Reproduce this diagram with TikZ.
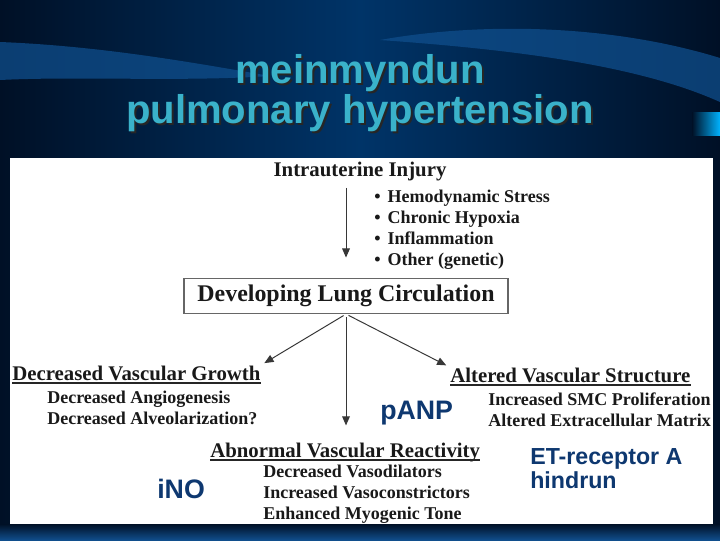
\documentclass[tikz,border=0pt]{standalone}
\usepackage{fontspec}
\setmainfont{Liberation Serif}
\newfontfamily\arialfont{Liberation Sans}
\usetikzlibrary{arrows.meta,calc,positioning}
\definecolor{bgmid}{RGB}{0,52,104}
\definecolor{bgdark}{RGB}{0,16,38}
\definecolor{bgband}{RGB}{16,78,140}
\definecolor{titlecyan}{RGB}{58,178,202}
\definecolor{drugblue}{RGB}{14,56,112}
\definecolor{flowgray}{RGB}{55,55,55}
\tikzset{
  title/.style={font=\fontsize{28.5}{32}\selectfont\arialfont\bfseries, text=titlecyan, inner sep=0pt},
  head/.style={font=\fontsize{14.8}{17}\selectfont\bfseries, text=black!90, inner sep=0pt, anchor=base west},
  item/.style={font=\fontsize{12.8}{15}\selectfont\bfseries, text=black!90, inner sep=0pt, anchor=base west},
  drug/.style={font=\fontsize{19}{22}\selectfont\arialfont\bfseries, text=drugblue, inner sep=0pt, anchor=base west},
  flow/.style={-{Triangle[length=6.5pt,width=5.5pt]}, draw=flowgray, line width=0.7pt},
  ul/.style={draw=black!85, line width=1.2pt},
}
\begin{document}
\begin{tikzpicture}[x=0.025cm, y=-0.025cm]
  % slide background
  \shade[left color=bgdark, right color=bgdark, middle color=bgmid] (0,0) rectangle (720,540);
  \fill[bgband, opacity=.75] (0,42) .. controls (100,46) and (190,62) .. (270,76)
    .. controls (180,82) and (80,76) .. (0,80) -- cycle;
  \fill[bgband, opacity=.75] (380,40) .. controls (480,22) and (610,24) .. (720,58)
    -- (720,102) .. controls (640,66) and (520,50) .. (380,40) -- cycle;
  \shade[left color=bgdark, right color=cyan!70!blue] (692,112) rectangle (720,135);
  \shade[top color=bgdark, bottom color=bgband] (0,524) rectangle (720,540);
  \fill[white] (10,158) rectangle (713,524);

  % title with its shadow
  \node[title, text=black!85] (t1s) at (362,75) {meinmyndun};
  \node[title] (t1) at (360,73) {meinmyndun};
  \node[title, text=black!85] (t2s) at (362,115) {pulmonary hypertension};
  \node[title] (t2) at (360,113) {pulmonary hypertension};

  % cause and lung box
  \node[head, anchor=base] (inj) at (360,176) {Intrauterine Injury};
  \foreach \c [count=\i] in {Hemodynamic Stress, Chronic Hypoxia, Inflammation, Other (genetic)}
    \node[item] (cause\i) at (374,181+21*\i) {\textbullet\hspace{5pt}\c};
  \node[draw=black!60, line width=0.8pt, minimum width=8.1cm, minimum height=0.875cm,
        font=\fontsize{17}{20}\selectfont\bfseries, text=black!90] (dev) at (346,296)
        {Developing Lung Circulation};

  % three outcomes
  \node[head] (gro) at (12,380) {Decreased Vascular Growth};
  \node[item] (gro1) at (47,403) {Decreased Angiogenesis};
  \node[item] (gro2) at (47,424) {Decreased Alveolarization?};

  \node[head] (alt) at (450,382) {Altered Vascular Structure};
  \node[item] (alt1) at (488,405) {Increased SMC Proliferation};
  \node[item] (alt2) at (488,426) {Altered Extracellular Matrix};

  \node[head] (abn) at (210,457) {Abnormal Vascular Reactivity};
  \node[item] (abn1) at (263,477) {Decreased Vasodilators};
  \node[item] (abn2) at (263,498) {Increased Vasoconstrictors};
  \node[item] (abn3) at (263,519) {Enhanced Myogenic Tone};

  \foreach \h in {gro, alt, abn}
    \draw[ul] ($(\h.base west)+(0,3)$) -- ($(\h.base east)+(0,3)$);

  % treatments
  \node[drug] (ino) at (157,498) {iNO};
  \node[drug] (anp) at (380,419) {pANP};
  \node[drug, font=\fontsize{16.5}{15}\selectfont\arialfont\bfseries, align=left] (eta)
        at (530,488) {ET-receptor A\\hindrun};

  % arrows
  \draw[flow, shorten <=5pt, shorten >=14.5pt] (inj.south -| dev.north) -- (dev.north);
  \draw[flow, shorten <=2pt, shorten >=3pt] (dev.south) -- (gro.north east);
  \draw[flow, shorten <=2pt, shorten >=12pt] (dev.south) -- (dev.south |- abn.north);
  \draw[flow, shorten <=2pt, shorten >=3pt] (dev.south) -- (alt.north west);
\end{tikzpicture}
\end{document}
